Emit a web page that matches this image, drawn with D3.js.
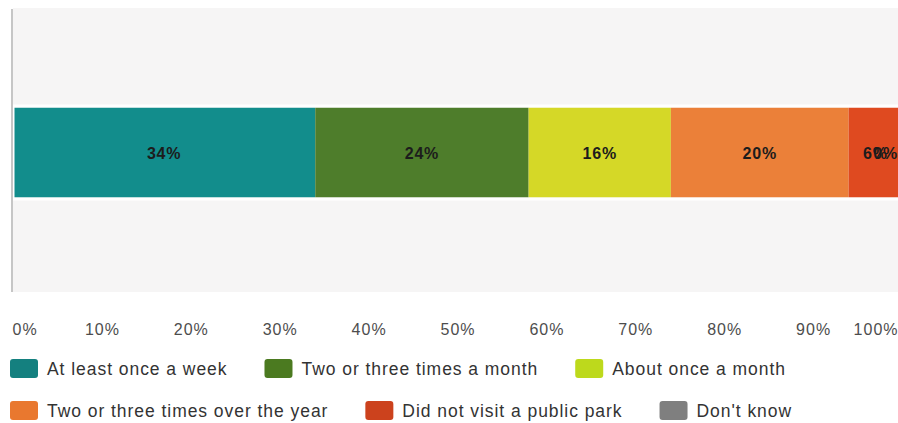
<!DOCTYPE html>
<html>
<head>
<meta charset="utf-8">
<script src="https://cdn.jsdelivr.net/npm/d3@7"></script>
<style>
  html, body { margin: 0; padding: 0; background: #ffffff; }
  svg { display: block; }
</style>
</head>
<body>
<svg id="chart" width="898" height="423"></svg>
<script>
// Frequency of visits to a public park (percent of respondents)
const categories = [
  "At least once a week",
  "Two or three times a month",
  "About once a month",
  "Two or three times over the year",
  "Did not visit a public park",
  "Don't know"
];
const values = [34, 24, 16, 20, 6, 0];
const tickValues = [0, 10, 20, 30, 40, 50, 60, 70, 80, 90, 100];
const tickLabels = ["0%", "10%", "20%", "30%", "40%", "50%", "60%", "70%", "80%", "90%", "100%"];
const colors = ["#128d8c", "#4e7d2b", "#d5d827", "#eb8039", "#df4a20", "#808080"];
const swatchColors = ["#14807f", "#4b7a20", "#bdd91c", "#e9782f", "#cc421d", "#7f7f7f"];

const W = 898, H = 423;
const svg = d3.select("#chart");

const x = d3.scaleLinear().domain([0, 100]).range([13, 902]);
const y = d3.scaleBand().domain(["Visits"]).range([10, 295]).padding(0.52);

// stacked segments
let acc = 0;
const segs = values.map((v, i) => {
  const s = { key: categories[i], value: v, x0: acc, x1: acc + v, color: colors[i] };
  acc += v;
  return s;
});

// plot area background
svg.append("rect")
  .attr("x", 13).attr("y", 8)
  .attr("width", W - 13).attr("height", 284)
  .attr("fill", "#f6f5f5");

// bar segments
svg.append("g").selectAll("rect")
  .data(segs)
  .join("rect")
  .attr("x", d => x(d.x0))
  .attr("y", y("Visits"))
  .attr("width", d => x(d.x1) - x(d.x0))
  .attr("height", y.bandwidth())
  .attr("fill", d => d.color);

// white gap around the bar
svg.append("rect")
  .attr("x", x(0)).attr("y", y("Visits") - 1.5)
  .attr("width", x(100) - x(0)).attr("height", y.bandwidth() + 3)
  .attr("fill", "none")
  .attr("stroke", "#ffffff")
  .attr("stroke-width", 3);

// value labels, kept inside the drawing
const labelG = svg.append("g")
  .attr("font-family", "'Liberation Sans', Arial, sans-serif")
  .attr("font-size", 16)
  .attr("font-weight", "bold")
  .attr("letter-spacing", 0.8)
  .attr("fill", "#1c1c1c");
labelG.selectAll("text")
  .data(segs)
  .join("text")
  .text(d => d.value + "%")
  .attr("text-anchor", "middle")
  .attr("y", y("Visits") + y.bandwidth() / 2 + 6)
  .attr("x", function (d) {
    const cx = x((d.x0 + d.x1) / 2);
    const hw = this.getComputedTextLength() / 2;
    return Math.min(cx, W - hw);
  });

// vertical axis line
svg.append("line")
  .attr("x1", 12).attr("x2", 12)
  .attr("y1", 9).attr("y2", 292)
  .attr("stroke", "#c6c6c6")
  .attr("stroke-width", 2);

// bottom axis
const axis = d3.axisBottom(x)
  .tickValues(tickValues)
  .tickFormat((d, i) => tickLabels[i])
  .tickSize(0)
  .tickPadding(0);
const axG = svg.append("g")
  .attr("transform", "translate(0,322)")
  .call(axis);
axG.select(".domain").remove();
axG.selectAll("text")
  .attr("font-family", "'Liberation Sans', Arial, sans-serif")
  .attr("font-size", 16)
  .attr("letter-spacing", 1)
  .attr("fill", "#4d4d4d")
  .attr("dy", "0.8em");
axG.selectAll(".tick").filter((d, i) => i === 0).select("text")
  .attr("text-anchor", "start").attr("dx", -1);
axG.selectAll(".tick").filter((d, i) => i === tickValues.length - 1).select("text")
  .attr("text-anchor", "end").attr("dx", -4);

// legend with flow layout
const legend = svg.append("g")
  .attr("font-family", "'Liberation Sans', Arial, sans-serif")
  .attr("font-size", 17.5)
  .attr("letter-spacing", 0.95)
  .attr("fill", "#333333");
let lx = 10, ly = 359;
const rowH = 42, swW = 28, swH = 19, textGap = 9, itemGap = 37;
categories.forEach((c, i) => {
  const item = legend.append("g");
  const t = item.append("text").text(c)
    .attr("x", swW + textGap).attr("y", swH / 2 + 6);
  const w = swW + textGap + t.node().getComputedTextLength();
  if (lx + w > W && lx > 10) { lx = 10; ly += rowH; }
  item.attr("transform", `translate(${lx},${ly})`);
  item.insert("rect", "text")
    .attr("width", swW).attr("height", swH)
    .attr("rx", 3)
    .attr("fill", swatchColors[i]);
  lx += w + itemGap;
});
</script>
</body>
</html>
